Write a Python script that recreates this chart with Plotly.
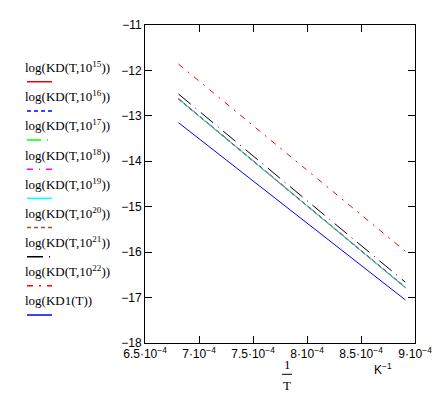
import plotly.graph_objects as go

# 1/T values (K^-1) at the ends of the plotted range
inv_T = [6.81e-4, 8.91e-4]

# log10 KD values
names = ["log(KD(T,10<sup>15</sup>))", "log(KD(T,10<sup>16</sup>))", "log(KD(T,10<sup>17</sup>))",
         "log(KD(T,10<sup>18</sup>))", "log(KD(T,10<sup>19</sup>))", "log(KD(T,10<sup>20</sup>))",
         "log(KD(T,10<sup>21</sup>))", "log(KD(T,10<sup>22</sup>))", "log(KD1(T))"]
kd15 = [-12.63, -16.78]
kd16 = [-12.63, -16.78]
kd17 = [-12.63, -16.78]
kd18 = [-12.62, -16.77]
kd19 = [-12.63, -16.78]
kd20 = [-12.62, -16.77]
kd21 = [-12.52, -16.66]
kd22 = [-11.86, -15.98]
kd1 = [-13.15, -17.05]
series = [kd15, kd16, kd17, kd18, kd19, kd20, kd21, kd22, kd1]

colors = ["#ff0000", "#0000ff", "#00ff00", "#ff00ff", "#00ffff", "#a0522d", "#000000", "#ff0000", "#0000ff"]
dashes = ["solid", "4px,3px", "14px,6px,1px,6px", "6px,6px,1px,6px", "solid", "4px,3px",
          "16px,6px,1px,6px", "6px,6px,2px,6px", "solid"]

x_tickvals = [6.5e-4, 7e-4, 7.5e-4, 8e-4, 8.5e-4, 9e-4]
x_ticktext = ["6.5·10<sup>−4</sup>", "7·10<sup>−4</sup>", "7.5·10<sup>−4</sup>",
              "8·10<sup>−4</sup>", "8.5·10<sup>−4</sup>", "9·10<sup>−4</sup>"]
y_tickvals = [-11, -12, -13, -14, -15, -16, -17, -18]

L, R, T, B = 137, 407, 10, 335


def px(xp):
    return (xp - L) / (R - L)


def py(yp):
    return 1 - (yp - T) / (B - T)


fig = go.Figure()
for nm, ys, c, d in zip(names, series, colors, dashes):
    fig.add_trace(go.Scatter(x=inv_T, y=ys, mode="lines", name=nm,
                             line=dict(color=c, width=1, dash=d), showlegend=False))

# custom legend: text above a line sample
top = 53
step = 29.8
for i, (nm, c, d) in enumerate(zip(names, colors, dashes)):
    ty = top + i * step
    fig.add_annotation(x=px(16), y=py(ty), xref="paper", yref="paper", text=nm,
                       showarrow=False, xanchor="left", yanchor="middle", borderpad=0,
                       font=dict(family="Liberation Serif", size=13, color="black"))
    ly = ty + 15
    fig.add_shape(type="line", xref="paper", yref="paper",
                  x0=px(19), x1=px(44), y0=py(ly), y1=py(ly),
                  line=dict(color=c, width=1.5, dash=d))

# axis title: 1/T fraction and unit
fig.add_annotation(x=px(279), y=py(357), xref="paper", yref="paper", yanchor="middle", text="1",
                   showarrow=False, font=dict(family="Liberation Serif", size=13, color="black"))
fig.add_annotation(x=px(279), y=py(378), xref="paper", yref="paper", yanchor="middle", text="T",
                   showarrow=False, font=dict(family="Liberation Serif", size=13, color="black"))
fig.add_shape(type="line", xref="paper", yref="paper", x0=px(274), x1=px(284),
              y0=py(367), y1=py(367), line=dict(color="black", width=1))
fig.add_annotation(x=px(386), y=py(362), xref="paper", yref="paper", yanchor="middle",
                   text="K<sup>−1</sup>", showarrow=False,
                   font=dict(family="Liberation Sans", size=12, color="black"))

axis_common = dict(showgrid=False, zeroline=False, showline=True, linecolor="black",
                   linewidth=1, mirror="ticks", ticks="inside", ticklen=7, tickcolor="black",
                   tickfont=dict(family="Liberation Sans", size=12, color="black"))
fig.update_xaxes(range=[6.5e-4, 9e-4], tickvals=x_tickvals, ticktext=x_ticktext, **axis_common)
fig.update_yaxes(range=[-18, -11], tickvals=y_tickvals, **axis_common)

fig.update_layout(width=444, height=396, margin=dict(l=L, r=444 - R, t=T, b=396 - B),
                  plot_bgcolor="white", paper_bgcolor="white", showlegend=False)
fig.write_html("out.html")
